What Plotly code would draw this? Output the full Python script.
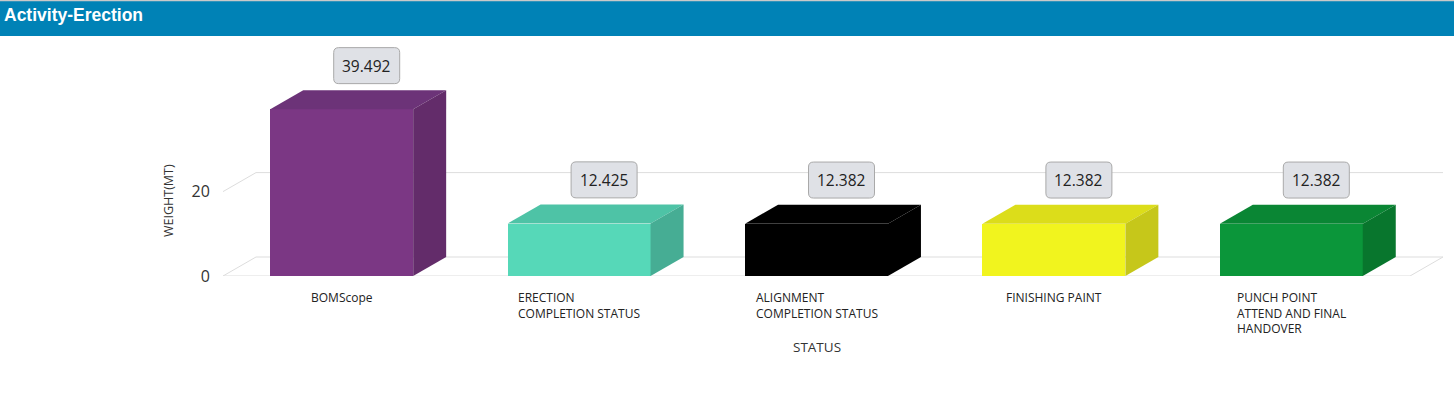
import plotly.graph_objects as go

# ---------------- data ----------------
categories = ["BOMScope",
              "ERECTION<br>COMPLETION STATUS",
              "ALIGNMENT<br>COMPLETION STATUS",
              "FINISHING PAINT",
              "PUNCH POINT<br>ATTEND AND FINAL<br>HANDOVER"]
values = [39.492, 12.425, 12.382, 12.382, 12.382]
value_labels = ["39.492", "12.425", "12.382", "12.382", "12.382"]
front_colors = ["#7b3784", "#56d8b8", "#000000", "#f1f41e", "#0b963a"]
top_colors = ["#6c3378", "#4ec3a6", "#000000", "#dcdd1a", "#0a8634"]
side_colors = ["#632c6a", "#46ad94", "#000000", "#c6c71a", "#08762d"]
y_tick_vals = [0, 20]
y_tick_text = ["0", "20"]
title_text = "Activity-Erection"
x_title = "STATUS"
y_title = "WEIGHT(MT)"

# ---------------- layout geometry (pixels) ----------------
W, H = 1454, 396
L, R, T, B = 223, 1443, 40, 276
PX_PER_CAT = 237.4
PX_PER_UNIT = 4.22
x_max = -0.5 + (R - L) / PX_PER_CAT
y_max = (B - T) / PX_PER_UNIT
DX = 33 / PX_PER_CAT          # depth offset in category units
DY = 19 / PX_PER_UNIT         # depth offset in value units
HW = 0.301                    # bar half width
n = len(categories)


def px_x(px):
    return (px - L) / (R - L)


def px_y(py):
    return (B - py) / (B - T)


fig = go.Figure()

# front faces
fig.add_trace(go.Bar(x=list(range(n)), y=values, width=2 * HW,
                     marker=dict(color=front_colors, line=dict(width=0)),
                     hoverinfo="skip", showlegend=False))

# top and side faces
for i, v in enumerate(values):
    fig.add_trace(go.Scatter(
        x=[i - HW, i + HW, i + HW + DX, i - HW + DX, i - HW],
        y=[v, v, v + DY, v + DY, v],
        fill="toself", fillcolor=top_colors[i], mode="lines",
        line=dict(width=0, color=top_colors[i]),
        hoverinfo="skip", showlegend=False))
    fig.add_trace(go.Scatter(
        x=[i + HW, i + HW + DX, i + HW + DX, i + HW, i + HW],
        y=[0, DY, v + DY, v, 0],
        fill="toself", fillcolor=side_colors[i], mode="lines",
        line=dict(width=0, color=side_colors[i]),
        hoverinfo="skip", showlegend=False))

shapes = []
grid_col = "#dddddd"
# floor front edge and sides
shapes.append(dict(type="line", xref="x", yref="y", x0=-0.5, y0=0, x1=n - 0.5, y1=0,
                   line=dict(color=grid_col, width=1), layer="below"))
shapes.append(dict(type="line", xref="x", yref="y", x0=n - 0.5, y0=0, x1=n - 0.5 + DX, y1=DY,
                   line=dict(color=grid_col, width=1), layer="below"))
for tv in y_tick_vals:
    shapes.append(dict(type="line", xref="x", yref="y", x0=-0.5, y0=tv, x1=-0.5 + DX, y1=tv + DY,
                       line=dict(color=grid_col, width=1), layer="below"))
    shapes.append(dict(type="line", xref="x", yref="y", x0=-0.5 + DX, y0=tv + DY,
                       x1=n - 0.5 + DX, y1=tv + DY,
                       line=dict(color=grid_col, width=1), layer="below"))

# value label boxes (rounded)
BOX_W = 66 / PX_PER_CAT
BOX_H = 36 / PX_PER_UNIT
RX = 5 / PX_PER_CAT
RY = 5 / PX_PER_UNIT
LBL_DX = 25 / PX_PER_CAT
LBL_GAP = 6.7 / PX_PER_UNIT
annotations = []
for i, v in enumerate(values):
    cx = i + LBL_DX
    x0, x1 = cx - BOX_W / 2, cx + BOX_W / 2
    y0 = v + DY + LBL_GAP
    y1 = y0 + BOX_H
    path = (f"M {x0 + RX},{y0} L {x1 - RX},{y0} Q {x1},{y0} {x1},{y0 + RY} "
            f"L {x1},{y1 - RY} Q {x1},{y1} {x1 - RX},{y1} L {x0 + RX},{y1} "
            f"Q {x0},{y1} {x0},{y1 - RY} L {x0},{y0 + RY} Q {x0},{y0} {x0 + RX},{y0} Z")
    shapes.append(dict(type="path", xref="x", yref="y", path=path,
                       fillcolor="#dfe1e6", line=dict(color="#a9a9a9", width=1), layer="above"))
    annotations.append(dict(xref="x", yref="y", x=cx, y=(y0 + y1) / 2, text=value_labels[i],
                            showarrow=False, xanchor="center", yanchor="middle",
                            font=dict(family="Open Sans", size=15.5, color="#222222")))

# category labels
for i, c in enumerate(categories):
    annotations.append(dict(xref="x", yref="y", x=i, y=0, yshift=-11, text=c, showarrow=False,
                            xanchor="center", yanchor="top", align="left",
                            font=dict(family="Open Sans", size=12, color="#222222")))

# header bar
shapes.append(dict(type="rect", xref="paper", yref="paper",
                   x0=px_x(0), x1=px_x(W), y0=px_y(36), y1=px_y(0),
                   fillcolor="#0082b6", line=dict(width=0), layer="above"))
shapes.append(dict(type="rect", xref="paper", yref="paper",
                   x0=px_x(0), x1=px_x(W), y0=px_y(1.2), y1=px_y(0),
                   fillcolor="#c9c9c9", line=dict(width=0), layer="above"))
annotations.append(dict(xref="paper", yref="paper", x=px_x(2), y=px_y(15.5), text=f"<b>{title_text}</b>",
                        showarrow=False, xanchor="left", yanchor="middle",
                        font=dict(family="Liberation Sans", size=17.5, color="#ffffff")))

# axis titles
annotations.append(dict(xref="paper", yref="paper", x=px_x(817), y=px_y(347), text=x_title,
                        showarrow=False, xanchor="center", yanchor="middle",
                        font=dict(family="Open Sans", size=13.5, color="#333333")))
annotations.append(dict(xref="paper", yref="paper", x=px_x(168), y=px_y(201), text=y_title,
                        showarrow=False, xanchor="center", yanchor="middle", textangle=-90,
                        font=dict(family="Open Sans", size=12.5, color="#333333")))

fig.update_layout(
    width=W, height=H,
    margin=dict(l=L, r=W - R, t=T, b=H - B, pad=0),
    paper_bgcolor="#ffffff", plot_bgcolor="rgba(0,0,0,0)",
    shapes=shapes, annotations=annotations,
    bargap=0, showlegend=False,
    xaxis=dict(range=[-0.5, x_max], showgrid=False, zeroline=False, showline=False,
               showticklabels=False, ticks="", fixedrange=True),
    yaxis=dict(range=[0, y_max], showgrid=False, zeroline=False, showline=False,
               tickvals=y_tick_vals, ticktext=y_tick_text, ticks="outside", ticklen=9,
               tickcolor="rgba(0,0,0,0)",
               tickfont=dict(family="Open Sans", size=16, color="#333333"), fixedrange=True),
)

fig.write_html("out.html", config={"displayModeBar": False},
               post_script="document.body.style.margin='0';document.body.style.overflow='hidden';")
